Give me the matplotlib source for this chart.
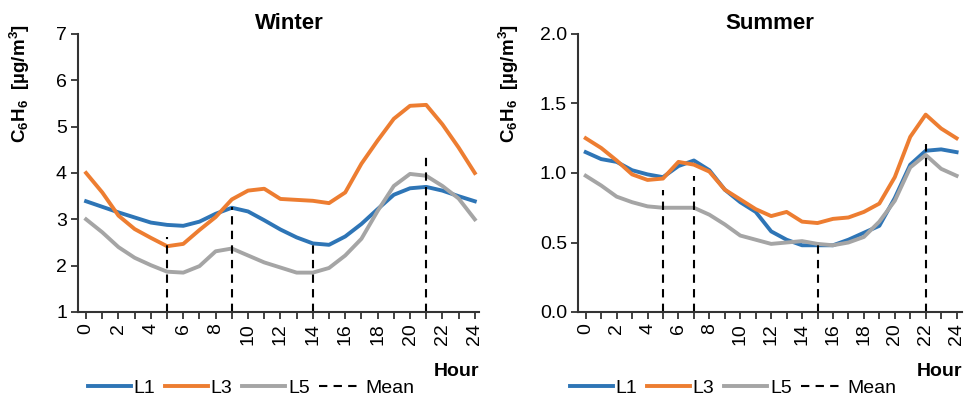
# benzene daily profiles, winter vs summer

import numpy as np
import matplotlib.pyplot as plt

plt.rcParams['font.family'] = ['Liberation Sans', 'DejaVu Sans']
plt.rcParams['mathtext.fontset'] = 'custom'
plt.rcParams['mathtext.rm'] = 'Liberation Sans:bold'
plt.rcParams['mathtext.it'] = 'Liberation Sans:bold'
plt.rcParams['mathtext.bf'] = 'Liberation Sans:bold'

# data
hours = np.arange(0, 25)

winter_l1 = [3.39, 3.27, 3.15, 3.04, 2.93, 2.88, 2.86, 2.95, 3.12, 3.25, 3.17, 2.98, 2.78,
             2.61, 2.48, 2.45, 2.63, 2.90, 3.22, 3.53, 3.67, 3.70, 3.62, 3.50, 3.39]
winter_l3 = [4.00, 3.58, 3.08, 2.79, 2.60, 2.42, 2.47, 2.77, 3.05, 3.43, 3.62, 3.66, 3.44,
             3.42, 3.40, 3.35, 3.58, 4.20, 4.70, 5.17, 5.45, 5.47, 5.05, 4.55, 4.00]
winter_l5 = [3.00, 2.72, 2.40, 2.17, 2.01, 1.87, 1.85, 1.99, 2.31, 2.37, 2.22, 2.07, 1.96,
             1.85, 1.85, 1.95, 2.22, 2.58, 3.18, 3.72, 3.98, 3.94, 3.72, 3.45, 3.00]
winter_mean_x = [5, 9, 14, 21]
winter_mean_top = [2.62, 3.27, 2.50, 4.35]

summer_l1 = [1.15, 1.10, 1.08, 1.02, 0.99, 0.97, 1.05, 1.09, 1.02, 0.88, 0.79, 0.72, 0.58,
             0.52, 0.48, 0.48, 0.48, 0.52, 0.57, 0.62, 0.82, 1.06, 1.16, 1.17, 1.15]
summer_l3 = [1.25, 1.18, 1.09, 0.99, 0.95, 0.96, 1.08, 1.06, 1.01, 0.88, 0.81, 0.74, 0.69,
             0.72, 0.65, 0.64, 0.67, 0.68, 0.72, 0.78, 0.97, 1.26, 1.42, 1.32, 1.25]
summer_l5 = [0.98, 0.91, 0.83, 0.79, 0.76, 0.75, 0.75, 0.75, 0.70, 0.63, 0.55, 0.52, 0.49,
             0.50, 0.51, 0.49, 0.48, 0.50, 0.54, 0.65, 0.80, 1.04, 1.13, 1.03, 0.98]
summer_mean_x = [5, 7, 15, 22]
summer_mean_top = [0.88, 0.98, 0.49, 1.21]

c_l1 = '#2E75B6'
c_l3 = '#ED7D31'
c_l5 = '#A5A5A5'

W, H = 967, 398
fig = plt.figure(figsize=(W / 100, H / 100), dpi=100)

panels = [
    dict(title='Winter', l1=winter_l1, l3=winter_l3, l5=winter_l5,
         mx=winter_mean_x, mt=winter_mean_top, ylim=(1, 7), yticks=np.arange(1, 8, 1),
         fmt='{:.0f}', rect=[78, 34, 479, 312], xlim=(-0.5, 24.26), title_x=0.526,
         ylab_x=20, leg_x=251),
    dict(title='Summer', l1=summer_l1, l3=summer_l3, l5=summer_l5,
         mx=summer_mean_x, mt=summer_mean_top, ylim=(0, 2), yticks=np.arange(0, 2.01, 0.5),
         fmt='{:.1f}', rect=[578, 34, 962, 312], xlim=(-0.5, 24.35), title_x=0.5,
         ylab_x=509, leg_x=733),
]

for p in panels:
    x0, y0, x1, y1 = p['rect']
    ax = fig.add_axes([x0 / W, 1 - y1 / H, (x1 - x0) / W, (y1 - y0) / H])

    ax.plot(hours, p['l1'], color=c_l1, lw=2.8, label='L1', solid_joinstyle='round')
    ax.plot(hours, p['l3'], color=c_l3, lw=2.8, label='L3', solid_joinstyle='round')
    ax.plot(hours, p['l5'], color=c_l5, lw=2.8, label='L5', solid_joinstyle='round')
    ymin = p['ylim'][0]
    for i, (mx, mt) in enumerate(zip(p['mx'], p['mt'])):
        ax.plot([mx, mx], [ymin, mt], color='black', lw=1.5, ls=(0, (4, 3)),
                label='Mean' if i == 0 else None)

    ax.set_xlim(p['xlim'])
    ax.set_ylim(p['ylim'])
    ax.set_xticks(hours)
    ax.set_xticklabels([str(h) if h % 2 == 0 else '' for h in hours], rotation=90, fontsize=14)
    ax.set_yticks(p['yticks'])
    ax.set_yticklabels([p['fmt'].format(v) for v in p['yticks']], fontsize=14)
    ax.tick_params(direction='out', length=5, width=1.3, color='#333333', pad=3)
    for s in ['top', 'right']:
        ax.spines[s].set_visible(False)
    for s in ['left', 'bottom']:
        ax.spines[s].set_linewidth(1.5)
        ax.spines[s].set_color('#333333')

    ax.set_title(p['title'], fontsize=16, fontweight='bold', x=p['title_x'], pad=2)
    ax.text(1.0, -0.215, 'Hour', transform=ax.transAxes, ha='right', va='center',
            fontsize=14, fontweight='bold')
    fig.text(p['ylab_x'] / W, 1 - 84 / H, r'C$_6$H$_6$  [µg/m$^3$]', rotation=90,
             ha='center', va='center', fontsize=13.5, fontweight='bold')

    ax.legend(loc='center', bbox_to_anchor=(p['leg_x'] / W, 1 - 388 / H),
              bbox_transform=fig.transFigure, ncol=4, frameon=False, fontsize=14,
              handlelength=2.2, handletextpad=0.15, columnspacing=0.5, borderpad=0)

fig.savefig('out.png', dpi=100)
